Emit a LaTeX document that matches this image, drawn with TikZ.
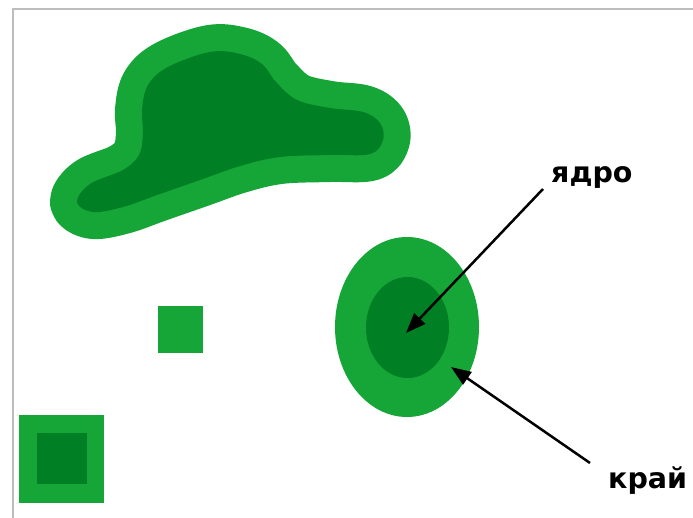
\documentclass[tikz,border=0pt]{standalone}
\usepackage{fontspec}
\setmainfont{DejaVu Sans}
\usetikzlibrary{arrows.meta}
\definecolor{lg}{HTML}{16A537}
\definecolor{dg}{HTML}{007F24}
\definecolor{framegray}{HTML}{BDBDBD}
\tikzset{
  lbl/.style={font=\fontsize{28.5}{31}\selectfont\bfseries, inner sep=0pt, anchor=base west},
  pointer/.style={draw=black, line width=2.5pt, -{Triangle[length=20pt,width=15pt]}},
}
\begin{document}
\begin{tikzpicture}[x={(1pt,0)}, y={(0,-1pt)}]
\useasboundingbox (0,0) rectangle (693,518);
\fill[white] (0,0) rectangle (693,518);
% frame
\draw[framegray, line width=2pt] (13,518) -- (13,9) -- (693,9);
% blob
\def\blob{plot[smooth cycle, tension=0.6] coordinates {
 (210,52) (240,54) (262,64) (276,82) (297,100) (330,108) (363,112) (380,123)
 (383,140) (370,154) (330,155) (280,157) (240,166) (200,180) (157,195) (123,207)
 (93,212) (77,202) (90,184) (123,170) (139,155) (143,133) (142,110) (148,85) (168,67)}}
\draw[lg, fill=lg, line width=54pt, line join=round] \blob;
\fill[dg] \blob;
% ellipse
\fill[lg] (407,327) ellipse [x radius=72pt, y radius=90pt];
\fill[dg] (407.5,327.5) ellipse [x radius=41.5pt, y radius=50.5pt];
% squares
\fill[lg] (158,306) rectangle (203,353);
\fill[lg] (19,415) rectangle (104,503);
\fill[dg] (37,433) rectangle (87,484);
% labels
\node[lbl] (yadro) at (551,183) {ядро};
\node[lbl] (kray) at (608,488) {край};
\coordinate (s1) at (543,189);
\coordinate (e1) at (406,333);
\coordinate (s2) at (590,463);
\coordinate (e2) at (451,367);
\draw[pointer] (s1) -- (e1);
\draw[pointer] (s2) -- (e2);
\end{tikzpicture}
\end{document}
